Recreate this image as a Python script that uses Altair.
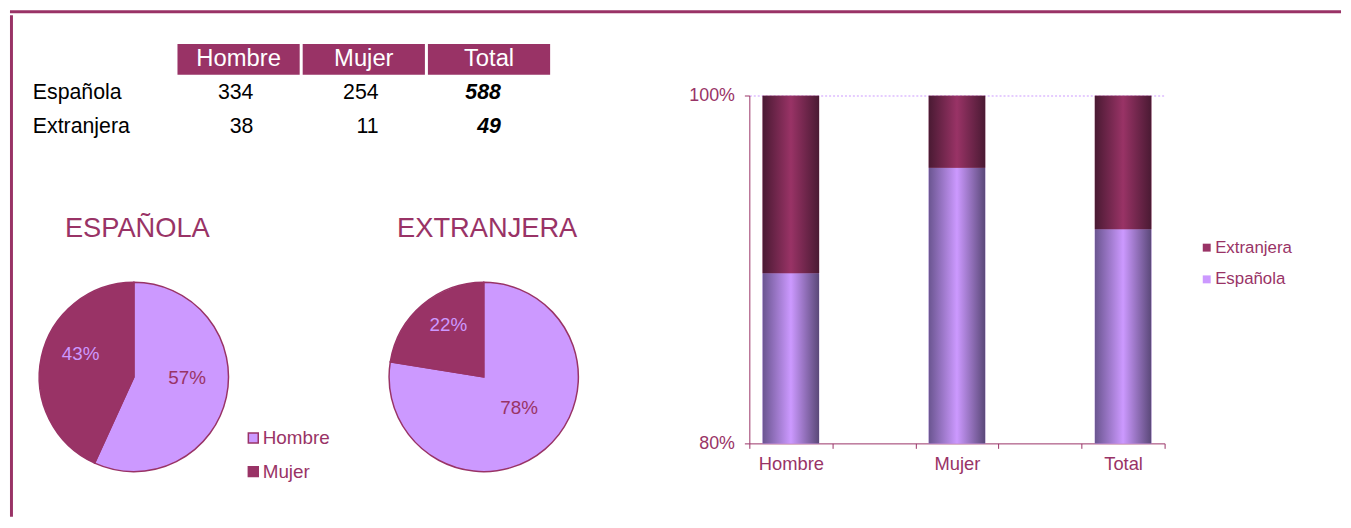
import altair as alt
import pandas as pd

# ---------------- data ----------------
sexos = ["Hombre", "Mujer", "Total"]
nacionalidades = ["Española", "Extranjera"]
espanola = [334, 254, 588]
extranjera = [38, 11, 49]
pie_sexos = ["Hombre", "Mujer"]
bar_domain = ["Hombre", " ", "Mujer", "  ", "Total"]
y_ticks = [0.8, 1.0]

MAG = "#993366"
LIL = "#CC99FF"
FONT = "Liberation Sans"

IND = dict(color="independent")

# ---------------- table ----------------
tab_rows = []
for nac, vals in zip(nacionalidades, [espanola, extranjera]):
    for s, v in zip(sexos, vals):
        tab_rows.append({"fila": nac, "col": s, "valor": str(v)})
tab_df = pd.DataFrame(tab_rows)
head_df = pd.DataFrame({"col": sexos, "fila": ["__h"] * len(sexos)})
lab_df = pd.DataFrame({"fila": nacionalidades})

tx = alt.X("col:N", scale=alt.Scale(domain=sexos, range=[166, 542], paddingInner=0.024, paddingOuter=0), axis=None)
ty = alt.Y("fila:N", scale=alt.Scale(domain=["__h"] + nacionalidades, range=[29, 128], paddingInner=0.09, paddingOuter=0), axis=None)

head_rect = alt.Chart(head_df).mark_rect(color=MAG).encode(x=tx, y=ty)
head_txt = alt.Chart(head_df).mark_text(color="white", fontSize=24, font=FONT).encode(x=tx, y=ty, text="col:N")
nums = alt.Chart(tab_df).transform_filter(alt.datum.col != "Total").mark_text(
    align="right", dx=15, fontSize=21.5, font=FONT, color="black").encode(x=tx, y=ty, text="valor:N")
tots = alt.Chart(tab_df).transform_filter(alt.datum.col == "Total").mark_text(
    align="right", dx=12, fontSize=21.5, font=FONT, color="black", fontWeight="bold", fontStyle="italic").encode(x=tx, y=ty, text="valor:N")
labs = alt.Chart(lab_df).mark_text(align="left", fontSize=21.5, font=FONT, color="black").encode(
    x=alt.value(20), y=ty, text="fila:N")
table = alt.layer(head_rect, head_txt, nums, tots, labs).properties(width=544, height=130)

# ---------------- pies ----------------
pie_rows = []
for nac, vals in zip(nacionalidades, [espanola, extranjera]):
    for i, (s, v) in enumerate(zip(pie_sexos, vals[:2])):
        pie_rows.append({"nac": nac, "sexo": s, "n": v, "ord": i})
pie_df = pd.DataFrame(pie_rows)
title_df = pd.DataFrame({"nac": nacionalidades, "titulo": [n.upper() for n in nacionalidades]})

pie_base = alt.Chart(pie_df).transform_joinaggregate(
    tot="sum(n)", groupby=["nac"]
).transform_window(
    cum="sum(n)", groupby=["nac"], sort=[alt.SortField("ord")], frame=[None, 0]
).transform_calculate(
    t0="(datum.cum - datum.n) / datum.tot",
    t1="datum.cum / datum.tot",
    tm="(datum.cum - datum.n / 2) / datum.tot",
    pct="format(datum.n / datum.tot, '.0%')",
)

px = alt.X("nac:N", scale=alt.Scale(type="point", domain=nacionalidades, range=[122, 475], padding=0), axis=None)
tscale = alt.Scale(domain=[0, 1])
PIE_Y = 235

arcs = pie_base.mark_arc(radius=95.5, stroke=MAG, strokeWidth=1.5).encode(
    x=px, y=alt.value(PIE_Y),
    theta=alt.Theta("t0:Q", stack=None, scale=tscale), theta2="t1:Q",
    color=alt.Color("sexo:N", scale=alt.Scale(domain=pie_sexos, range=[LIL, MAG]),
                    legend=alt.Legend(orient="none", legendX=233, legendY=287, title=None,
                                      symbolType="square", symbolSize=100, symbolStrokeColor=MAG,
                                      symbolStrokeWidth=1.5, labelFontSize=19, labelColor=MAG,
                                      labelFont=FONT, rowPadding=14, labelOffset=0, padding=0)),
    order=alt.Order("ord:Q"),
)
pie_labels = pie_base.mark_text(radius=55, dy=-11, fontSize=19, font=FONT).encode(
    x=px, y=alt.value(PIE_Y),
    theta=alt.Theta("tm:Q", stack=None, scale=tscale),
    text="pct:N",
    color=alt.condition(alt.datum.sexo == "Hombre", alt.value(MAG), alt.value(LIL)),
)
pie_titles = alt.Chart(title_df).mark_text(fontSize=27.5, font=FONT, color=MAG, dx=3.5).encode(
    x=px, y=alt.value(86), text="titulo:N")
pies = alt.layer(arcs, pie_labels, pie_titles).properties(width=600, height=376)

left_block = alt.vconcat(table, pies, spacing=0).resolve_scale(**IND).resolve_legend(**IND)

# ---------------- stacked bars ----------------
bar_rows = []
for s, e, x in zip(sexos, espanola, extranjera):
    t = e + x
    bar_rows.append({"col": s, "nac": "Española", "lo": 0.0, "hi": e / t})
    bar_rows.append({"col": s, "nac": "Extranjera", "lo": e / t, "hi": 1.0})
bar_df = pd.DataFrame(bar_rows)

bx = alt.X("col:N", scale=alt.Scale(domain=bar_domain, paddingInner=0, paddingOuter=0),
           axis=alt.Axis(title=None, labelAngle=0, tickBand="extent", labelColor=MAG, labelFontSize=18.5,
                         labelFont=FONT, labelPadding=6, tickColor=MAG, tickSize=5, domainColor=MAG,
                         domainWidth=1, grid=False))
by = alt.Y("lo:Q", scale=alt.Scale(domain=[0.8, 1.0]),
           axis=alt.Axis(title=None, format=".0%", values=y_ticks, labelColor=MAG, labelFontSize=18,
                         labelFont=FONT, labelPadding=10, tickColor=MAG, tickSize=5, domainColor=MAG,
                         grid=True, gridColor=LIL, gridDash=[2, 2], gridWidth=1,
                         gridOpacity=alt.condition("datum.value < 0.9", alt.value(0), alt.value(1))))

esp_grad = alt.LinearGradient(gradient="linear", x1=0, x2=1, y1=0, y2=0, stops=[
    alt.GradientStop(offset=0, color="#6a5590"),
    alt.GradientStop(offset=0.5, color=LIL),
    alt.GradientStop(offset=1, color="#5a4878"),
])
ext_grad = alt.LinearGradient(gradient="linear", x1=0, x2=1, y1=0, y2=0, stops=[
    alt.GradientStop(offset=0, color="#4a1a33"),
    alt.GradientStop(offset=0.5, color=MAG),
    alt.GradientStop(offset=1, color="#4a1a33"),
])

bar_base = alt.Chart(bar_df).mark_bar(size=57, clip=True).encode(
    x=bx, y=by, y2="hi:Q",
    color=alt.Color("nac:N", scale=alt.Scale(domain=["Extranjera", "Española"], range=[MAG, LIL]),
                    legend=alt.Legend(orient="none", legendX=453, legendY=145, title=None,
                                      symbolType="square", symbolSize=64, symbolStrokeWidth=0,
                                      labelFontSize=17, labelColor=MAG, labelFont=FONT,
                                      rowPadding=14, labelOffset=0, padding=0)),
)
bar_esp = alt.Chart(bar_df).transform_filter(alt.datum.nac == "Española").mark_bar(
    size=57, clip=True, fill=esp_grad).encode(x=bx, y=by, y2="hi:Q")
bar_ext = alt.Chart(bar_df).transform_filter(alt.datum.nac == "Extranjera").mark_bar(
    size=57, clip=True, fill=ext_grad).encode(x=bx, y=by, y2="hi:Q")
bars = alt.layer(bar_base, bar_esp, bar_ext).properties(width=419, height=351)

spacer = alt.Chart(pd.DataFrame({"k": [0]})).mark_rule(opacity=0).encode(
    x=alt.value(0), y=alt.value(0), y2=alt.value(60)).properties(width=1, height=71.5)
right_col = alt.vconcat(spacer, bars, spacing=0).resolve_scale(**IND).resolve_legend(**IND)

# ---------------- frame ----------------
frame_top = alt.Chart(pd.DataFrame({"k": [0]})).mark_rule(color=MAG, strokeWidth=3).encode(
    x=alt.value(0), x2=alt.value(1343), y=alt.value(1.5)).properties(width=1343, height=3)
frame_left = alt.Chart(pd.DataFrame({"k": [0]})).mark_rule(color=MAG, strokeWidth=3).encode(
    x=alt.value(1.5), y=alt.value(0), y2=alt.value(506)).properties(width=3, height=506)

inner = alt.hconcat(left_block, right_col, spacing=81).resolve_scale(**IND).resolve_legend(**IND)
main = alt.hconcat(frame_left, inner, spacing=0).resolve_scale(**IND).resolve_legend(**IND)
chart = alt.vconcat(frame_top, main, spacing=0).resolve_scale(**IND).resolve_legend(**IND).properties(
    padding={"left": 0, "top": 0, "right": 0, "bottom": 0}
).configure(font=FONT).configure_view(strokeWidth=0, stroke="transparent")

chart.save("out.html", embed_options={"renderer": "svg", "actions": False})
